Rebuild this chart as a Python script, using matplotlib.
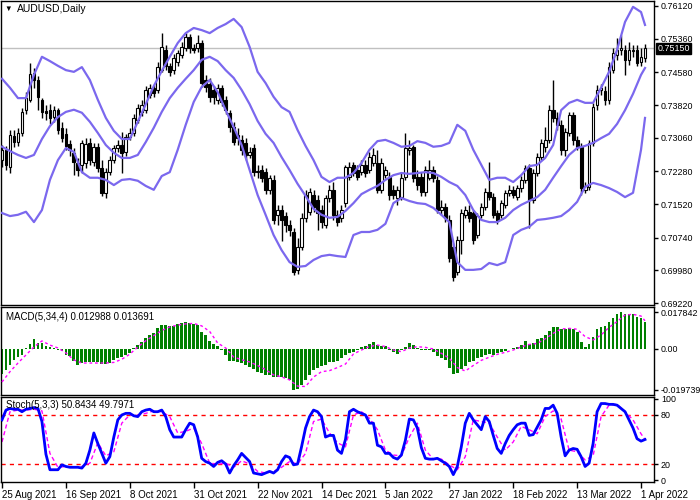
import numpy as np
import matplotlib.pyplot as plt

plt.rcParams['font.family'] = ['Liberation Sans', 'DejaVu Sans']

# ---- data ----
dates = ["25 Aug 2021", "16 Sep 2021", "8 Oct 2021", "31 Oct 2021", "22 Nov 2021",
         "14 Dec 2021", "5 Jan 2022", "27 Jan 2022", "18 Feb 2022", "13 Mar 2022", "1 Apr 2022"]
date_bars = [0, 16, 32, 48, 64, 80, 96, 112, 128, 144, 160]

opens = [
    .7255, .7278, .7239, .7310, .7297, .7317, .7371, .7394, .7457, .7440,
    .7394, .7368, .7371, .7355, .7371, .7329, .7315, .7292, .7271, .7248,
    .7243, .7248, .7294, .7250, .7285, .7236, .7178, .7227, .7255, .7283,
    .7290, .7273, .7308, .7317, .7348, .7366, .7371, .7406, .7422, .7417,
    .7464, .7510, .7473, .7464, .7482, .7498, .7515, .7540, .7515, .7515,
    .7526, .7440, .7431, .7417, .7394, .7422, .7394, .7364, .7331, .7313,
    .7301, .7294, .7266, .7283, .7227, .7232, .7227, .7185, .7208, .7127,
    .7139, .7123, .7104, .7088, .6999, .7053, .7120, .7134, .7174, .7162,
    .7139, .7104, .7167, .7185, .7127, .7120, .7155, .7215, .7243, .7232,
    .7227, .7243, .7232, .7248, .7248, .7185, .7220, .7215, .7185, .7167,
    .7169, .7215, .7278, .7285, .7215, .7215, .7181, .7213, .7232, .7208,
    .7139, .7146, .7116, .7053, .6993, .7069, .7127, .7134, .7132, .7081,
    .7127, .7146, .7181, .7169, .7132, .7127, .7150, .7178, .7185, .7169,
    .7190, .7208, .7236, .7162, .7225, .7262, .7285, .7301, .7371, .7352,
    .7336, .7278, .7317, .7359, .7301, .7285, .7185, .7192, .7294, .7382,
    .7417, .7415, .7394, .7464, .7498, .7510, .7510, .7487, .7508, .7510,
    .7482, .7491]
highs = [
    .7290, .7287, .7324, .7324, .7329, .7375, .7413, .7480, .7468, .7450,
    .7399, .7382, .7385, .7380, .7375, .7343, .7329, .7301, .7283, .7259,
    .7301, .7306, .7306, .7294, .7294, .7255, .7236, .7264, .7290, .7301,
    .7320, .7315, .7329, .7361, .7385, .7394, .7426, .7431, .7429, .7482,
    .7549, .7522, .7480, .7501, .7510, .7529, .7549, .7547, .7524, .7545,
    .7533, .7452, .7445, .7426, .7431, .7429, .7403, .7371, .7343, .7329,
    .7313, .7306, .7285, .7292, .7243, .7243, .7236, .7220, .7220, .7150,
    .7150, .7134, .7116, .7097, .7074, .7130, .7185, .7190, .7185, .7174,
    .7150, .7174, .7197, .7204, .7139, .7150, .7243, .7250, .7250, .7243,
    .7255, .7255, .7273, .7283, .7278, .7259, .7241, .7227, .7197, .7194,
    .7227, .7317, .7301, .7290, .7232, .7227, .7241, .7255, .7241, .7218,
    .7162, .7155, .7127, .7062, .7078, .7141, .7148, .7150, .7139, .7132,
    .7155, .7190, .7250, .7178, .7139, .7162, .7185, .7197, .7194, .7197,
    .7218, .7243, .7246, .7234, .7271, .7304, .7331, .7382, .7440, .7366,
    .7348, .7329, .7366, .7366, .7310, .7294, .7204, .7301, .7387, .7429,
    .7431, .7426, .7482, .7515, .7538, .7545, .7522, .7529, .7522, .7522,
    .7515, .7524]
lows = [
    .7239, .7232, .7225, .7285, .7287, .7310, .7361, .7389, .7422, .7371,
    .7352, .7348, .7338, .7343, .7315, .7297, .7278, .7264, .7220, .7218,
    .7225, .7236, .7243, .7241, .7227, .7171, .7167, .7220, .7248, .7273,
    .7225, .7264, .7301, .7310, .7341, .7357, .7364, .7399, .7401, .7410,
    .7459, .7464, .7450, .7454, .7473, .7491, .7508, .7503, .7503, .7505,
    .7424, .7413, .7389, .7385, .7385, .7380, .7361, .7320, .7290, .7290,
    .7266, .7255, .7259, .7218, .7213, .7204, .7176, .7176, .7106, .7104,
    .7065, .7088, .7078, .6988, .6990, .7046, .7111, .7127, .7134, .7092,
    .7097, .7097, .7157, .7116, .7102, .7111, .7146, .7208, .7218, .7208,
    .7220, .7215, .7225, .7241, .7178, .7178, .7213, .7162, .7164, .7150,
    .7162, .7208, .7266, .7204, .7185, .7171, .7171, .7208, .7204, .7130,
    .7127, .7111, .7018, .6972, .6986, .7037, .7120, .7111, .7060, .7074,
    .7120, .7139, .7162, .7120, .7106, .7120, .7143, .7171, .7167, .7162,
    .7181, .7201, .7097, .7155, .7218, .7255, .7273, .7294, .7343, .7324,
    .7266, .7264, .7310, .7290, .7278, .7174, .7178, .7185, .7287, .7371,
    .7406, .7382, .7385, .7457, .7487, .7498, .7452, .7475, .7494, .7473,
    .7473, .7482]
closes = [
    .7278, .7243, .7313, .7297, .7317, .7366, .7399, .7454, .7440, .7401,
    .7366, .7364, .7352, .7371, .7324, .7306, .7287, .7278, .7250, .7232,
    .7294, .7292, .7255, .7285, .7236, .7178, .7227, .7255, .7283, .7290,
    .7271, .7308, .7317, .7352, .7375, .7382, .7417, .7422, .7410, .7471,
    .7517, .7473, .7459, .7491, .7503, .7517, .7540, .7515, .7510, .7526,
    .7433, .7424, .7401, .7401, .7422, .7389, .7371, .7331, .7297, .7306,
    .7278, .7266, .7273, .7227, .7229, .7213, .7185, .7213, .7116, .7139,
    .7116, .7104, .7092, .6995, .7053, .7120, .7174, .7181, .7146, .7132,
    .7111, .7167, .7185, .7127, .7111, .7139, .7239, .7239, .7225, .7215,
    .7243, .7225, .7262, .7266, .7185, .7248, .7232, .7174, .7174, .7185,
    .7213, .7283, .7283, .7213, .7197, .7181, .7232, .7232, .7213, .7139,
    .7146, .7120, .7027, .6983, .7069, .7132, .7139, .7120, .7069, .7123,
    .7146, .7181, .7169, .7127, .7116, .7155, .7178, .7185, .7174, .7190,
    .7208, .7236, .7162, .7225, .7262, .7294, .7301, .7371, .7352, .7336,
    .7278, .7320, .7359, .7301, .7285, .7190, .7194, .7294, .7378, .7417,
    .7422, .7394, .7471, .7503, .7510, .7515, .7487, .7510, .7510, .7480,
    .7494, .7515]

# Bollinger band / signal readings taken every second bar (plus the last bar)
line_bars = list(range(0, 161, 2)) + [161]
bb_upper = [
    .7443, .7422, .7398, .7398, .7452, .7494, .7484, .7473, .7463, .7459,
    .7470, .7440, .7394, .7352, .7322, .7303, .7303, .7343, .7384, .7426,
    .7461, .7494, .7526, .7549, .7561, .7556, .7549, .7561, .7570, .7582,
    .7563, .7517, .7459, .7433, .7401, .7377, .7366, .7324, .7287, .7254,
    .7215, .7203, .7213, .7213, .7224, .7247, .7278, .7298, .7301, .7294,
    .7285, .7287, .7298, .7294, .7285, .7287, .7294, .7336, .7322, .7278,
    .7243, .7208, .7213, .7213, .7203, .7219, .7240, .7243, .7259, .7289,
    .7370, .7387, .7394, .7387, .7387, .7422, .7459, .7510, .7575, .7610,
    .7598, .7568]
bb_mid = [
    .7285, .7275, .7266, .7259, .7266, .7303, .7333, .7354, .7366, .7371,
    .7364, .7343, .7317, .7289, .7271, .7259, .7259, .7266, .7296, .7329,
    .7366, .7398, .7422, .7443, .7463, .7487, .7494, .7484, .7463, .7445,
    .7417, .7384, .7345, .7315, .7294, .7261, .7231, .7199, .7171, .7141,
    .7127, .7120, .7122, .7136, .7154, .7175, .7185, .7194, .7208, .7219,
    .7224, .7222, .7224, .7226, .7224, .7215, .7203, .7194, .7173, .7138,
    .7115, .7110, .7110, .7120, .7138, .7150, .7159, .7168, .7185, .7213,
    .7240, .7266, .7282, .7287, .7294, .7305, .7315, .7338, .7370, .7408,
    .7452, .7468]
bb_lower = [
    .7131, .7124, .7127, .7134, .7110, .7138, .7208, .7254, .7282, .7273,
    .7226, .7213, .7213, .7208, .7196, .7208, .7210, .7206, .7194, .7185,
    .7217, .7226, .7278, .7336, .7389, .7424, .7440, .7412, .7370, .7331,
    .7289, .7231, .7173, .7127, .7080, .7045, .7017, .7006, .7008, .7022,
    .7031, .7034, .7031, .7029, .7080, .7087, .7087, .7092, .7106, .7154,
    .7166, .7159, .7154, .7152, .7143, .7127, .7110, .7017, .6999, .6999,
    .7001, .7015, .7010, .7017, .7080, .7092, .7099, .7115, .7117, .7120,
    .7124, .7138, .7157, .7192, .7201, .7196, .7189, .7180, .7168, .7178,
    .7278, .7352]

macd_hist = [
    -.0121, -.0102, -.0078, -.0053, -.0039, -.0029, .0005, .0024, .0049, .0029,
    .0027, .0015, .0010, .0003, -.0005, -.0010, -.0029, -.0034, -.0058, -.0078,
    -.0068, -.0063, -.0063, -.0065, -.0063, -.0073, -.0073, -.0070, -.0053, -.0044,
    -.0039, -.0029, -.0019, .0003, .0019, .0034, .0053, .0068, .0078, .0102,
    .0116, .0116, .0112, .0112, .0121, .0126, .0131, .0126, .0121, .0116,
    .0082, .0068, .0039, .0024, .0015, -.0005, -.0029, -.0058, -.0058, -.0063,
    -.0068, -.0078, -.0087, -.0097, -.0112, -.0116, -.0126, -.0126, -.0136, -.0136,
    -.0138, -.0141, -.0150, -.0197, -.0195, -.0175, -.0150, -.0126, -.0102, -.0092,
    -.0082, -.0078, -.0063, -.0063, -.0058, -.0044, -.0029, -.0020, -.0013, -.0005,
    .0008, .0015, .0024, .0032, .0019, .0015, .0015, -.0005, -.0013, -.0026,
    -.0005, .0011, .0027, .0019, .0006, -.0005, -.0005, -.0005, -.0013, -.0032,
    -.0042, -.0053, -.0094, -.0123, -.0118, -.0097, -.0081, -.0065, -.0058, -.0045,
    -.0037, -.0029, -.0024, -.0029, -.0021, -.0016, -.0010, -.0002, .0006, .0011,
    .0019, .0039, .0024, .0027, .0049, .0055, .0068, .0087, .0108, .0108,
    .0097, .0095, .0100, .0095, .0084, .0036, .0011, .0024, .0060, .0097,
    .0108, .0113, .0133, .0152, .0168, .0178, .0168, .0168, .0168, .0157,
    .0149, .0130]
macd_signal = [
    -.0160, -.0110, -.0068, -.0029, .0010, .0039, .0019, .0005, -.0019, -.0053,
    -.0068, -.0068, -.0068, -.0068, -.0065, -.0050, -.0025, .0010, .0040, .0065,
    .0090, .0107, .0116, .0122, .0124, .0112, .0085, .0029, .0005, -.0039,
    -.0052, -.0063, -.0080, -.0100, -.0126, -.0135, -.0150, -.0180, -.0182, -.0136,
    -.0110, -.0105, -.0090, -.0073, -.0024, -.0005, .0012, .0019, .0012, -.0005,
    -.0013, .0005, .0011, .0008, .0000, -.0021, -.0045, -.0090, -.0107, -.0080,
    -.0055, -.0040, -.0026, -.0016, -.0005, .0010, .0022, .0027, .0049, .0076,
    .0097, .0100, .0096, .0060, .0044, .0068, .0105, .0133, .0165, .0168,
    .0160, .0137]

stoch_main = [
    74, 86, 88, 87, 87, 84, 87, 88, 89, 88,
    72, 32, 13, 13, 13, 19, 17, 16, 16, 16,
    15, 21, 37, 58, 45, 33, 21, 29, 53, 74,
    80, 82, 82, 79, 78, 84, 86, 87, 84, 84,
    86, 78, 62, 53, 53, 53, 62, 70, 68, 53,
    27, 23, 21, 17, 22, 24, 20, 9, 18, 25,
    33, 28, 23, 9, 8, 7, 9, 11, 9, 13,
    23, 30, 28, 19, 20, 41, 64, 78, 86, 84,
    78, 53, 55, 55, 37, 33, 50, 84, 87, 84,
    82, 80, 70, 70, 43, 41, 33, 33, 28, 26,
    31, 49, 75, 74, 64, 40, 27, 26, 26, 27,
    24, 21, 17, 7, 17, 41, 70, 82, 74, 68,
    62, 78, 72, 55, 39, 33, 45, 55, 62, 68,
    70, 70, 55, 56, 65, 74, 88, 88, 92, 82,
    53, 30, 37, 39, 38, 29, 17, 21, 45, 84,
    94, 94, 93, 93, 92, 88, 84, 74, 64, 51,
    48, 50]
stoch_signal = [
    47, 84, 86, 86, 87, 85, 33, 16, 17, 16,
    17, 21, 46, 30, 35, 70, 80, 80, 82, 85,
    84, 78, 58, 60, 64, 45, 21, 20, 21, 16,
    24, 20, 11, 9, 11, 16, 23, 20, 33, 72,
    75, 58, 46, 41, 80, 84, 76, 62, 37, 31,
    30, 53, 70, 37, 26, 26, 19, 13, 29, 74,
    72, 70, 53, 37, 47, 66, 62, 57, 78, 85,
    75, 37, 35, 25, 30, 78, 92, 93, 84, 74,
    57, 50]

price_ticks = [0.76120, 0.75360, 0.74580, 0.73820, 0.73060, 0.72280,
               0.71520, 0.70740, 0.69980, 0.69220]
last_price = 0.75150

# ---- layout (pixel boxes of the 700x500 picture) ----
W, H = 700, 500
FS = 6.4


def box(top, bottom, left=1, right=654):
    return [left / W, 1 - bottom / H, (right - left) / W, (bottom - top) / H]


fig = plt.figure(figsize=(7, 5), dpi=100)
ax = fig.add_axes(box(1, 305))
ax_m = fig.add_axes(box(307, 395))
ax_s = fig.add_axes(box(397, 482))

x = np.arange(len(closes))
o = np.array(opens)
h = np.array(highs)
lo = np.array(lows)
c = np.array(closes)
up = c >= o
body_bottom = np.minimum(o, c)
body_height = np.maximum(np.abs(c - o), 0.00006)

band_color = '#7B68EE'

# main price panel
ax.axhline(last_price, color='#c0c0c0', lw=1, zorder=1)
ax.vlines(x, lo, h, color='black', lw=1, zorder=2)
ax.bar(x[up], body_height[up], bottom=body_bottom[up], width=0.7,
       facecolor='white', edgecolor='black', lw=0.8, zorder=3)
ax.bar(x[~up], body_height[~up], bottom=body_bottom[~up], width=0.7,
       facecolor='black', edgecolor='black', lw=0.8, zorder=3)
for band in (bb_upper, bb_mid, bb_lower):
    ax.plot(line_bars, band, color=band_color, lw=1.6, zorder=4)

ax.set_ylim(0.69174, 0.76236)
ax.set_yticks(price_ticks)
ax.set_yticklabels([f"{v:.5f}" for v in price_ticks])
ax.text(1.005, last_price - 0.0001, f"{last_price:.5f}", transform=ax.get_yaxis_transform(),
        color='white', fontsize=FS, va='center', ha='left', zorder=6,
        bbox=dict(boxstyle='square,pad=0.1', fc='black', ec='black'))

# MACD panel
ax_m.bar(x, macd_hist, width=0.7, color='#008000', zorder=2)
ax_m.plot(line_bars, macd_signal, color='#FF00FF', lw=1, ls=(0, (2, 2)), zorder=3)
ax_m.set_ylim(-0.02231, 0.02037)
ax_m.set_yticks([0.017842, 0.0, -0.019739])
ax_m.set_yticklabels(['0.017842', '0.00', '-0.019739'])
ax_m.text(0.007, 0.885, "MACD(5,34,4) 0.012988 0.013691", transform=ax_m.transAxes,
          fontsize=7, va='center', ha='left', zorder=5)

# Stochastic panel
ax_s.axhline(80, color='red', lw=1, ls=(0, (3, 3)), zorder=1)
ax_s.axhline(20, color='red', lw=1, ls=(0, (3, 3)), zorder=1)
ax_s.plot(line_bars, stoch_signal, color='#FF00FF', lw=1, ls=(0, (3, 2)), zorder=2)
ax_s.plot(x, stoch_main, color='#0000FF', lw=2, zorder=3)
ax_s.set_ylim(-2, 102)
ax_s.set_yticks([100, 80, 20, 0])
ax_s.set_yticklabels(['100', '80', '20', '0'])
lbls = ax_s.get_yticklabels()
lbls[0].set_va('top')
lbls[3].set_va('bottom')
ax_s.text(0.007, 0.9, "Stoch(5,3,3) 50.8434 49.7971", transform=ax_s.transAxes,
          fontsize=7, va='center', ha='left', zorder=5)

ax_s.set_xticks(date_bars)
ax_s.set_xticklabels(dates)
for t in ax_s.get_xticklabels():
    t.set_ha('left')

for a in (ax, ax_m, ax_s):
    a.set_xlim(-0.25, 163.25)
    a.yaxis.tick_right()
    a.tick_params(axis='y', direction='out', length=3, width=1, pad=2, labelsize=FS)
    a.tick_params(axis='x', direction='out', length=4, width=1, pad=2, labelsize=7)
    for s in a.spines.values():
        s.set_color('black')
        s.set_linewidth(1)
ax.set_xticks([])
ax_m.set_xticks([])

fig.text(4 / W, 1 - 9 / H, "\u25bc", fontsize=5.5, va='center', ha='left')
fig.text(17 / W, 1 - 9 / H, "AUDUSD,Daily", fontsize=7.5, va='center', ha='left')

fig.savefig("out.png", dpi=100)
